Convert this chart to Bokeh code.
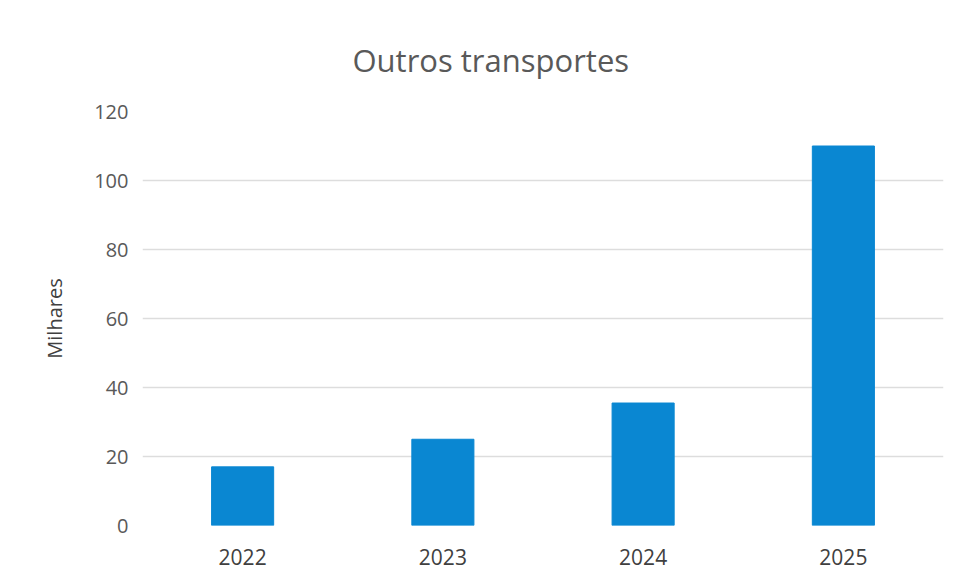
from bokeh.plotting import figure
from bokeh.models import ColumnDataSource, FixedTicker, Range1d
from bokeh.embed import file_html
from bokeh.resources import INLINE

years = ["2022", "2023", "2024", "2025"]
values = [17, 25, 35.5, 110]
y_ticks = [0, 20, 40, 60, 80, 100, 120]

source = ColumnDataSource(data=dict(years=years, values=values))

p = figure(x_range=years, y_range=Range1d(0, 120), width=944, height=579,
           output_backend="svg", toolbar_location=None,
           min_border_left=142, min_border_right=1, min_border_top=111, min_border_bottom=54)

p.vbar(x="years", top="values", width=0.31, source=source, color="#0A87D2")

p.title.text = "Outros transportes"
p.title.text_font = "Open Sans"
p.title.text_font_size = "31px"
p.title.text_font_style = "normal"
p.title.text_color = "#595959"
p.title.align = "left"
p.title.offset = 210
p.title.standoff = 61

p.outline_line_color = None
p.background_fill_color = "white"
p.border_fill_color = "white"

p.xgrid.grid_line_color = None
p.ygrid.grid_line_color = "#DDDDDD"
p.ygrid.grid_line_width = 1.5

p.yaxis.ticker = FixedTicker(ticks=y_ticks)
p.yaxis.axis_label = "Milhares"
p.yaxis.axis_label_text_font = "Open Sans"
p.yaxis.axis_label_text_font_size = "20px"
p.yaxis.axis_label_text_font_style = "normal"
p.yaxis.axis_label_text_color = "#404040"
p.yaxis.axis_label_standoff = 23

for ax in (p.xaxis, p.yaxis):
    ax.axis_line_color = None
    ax.major_tick_line_color = None
    ax.minor_tick_line_color = None
    ax.major_tick_out = 0
    ax.major_tick_in = 0
    ax.major_label_text_font = "Open Sans"

p.yaxis.major_label_text_font_size = "20px"
p.xaxis.major_label_text_font_size = "21px"
p.yaxis.major_label_text_color = "#595959"
p.yaxis.major_label_standoff = 14
p.xaxis.major_label_text_color = "#404040"
p.xaxis.major_label_standoff = 23
p.x_range.range_padding = 0.0

open("out.html", "w").write(file_html(p, INLINE))
